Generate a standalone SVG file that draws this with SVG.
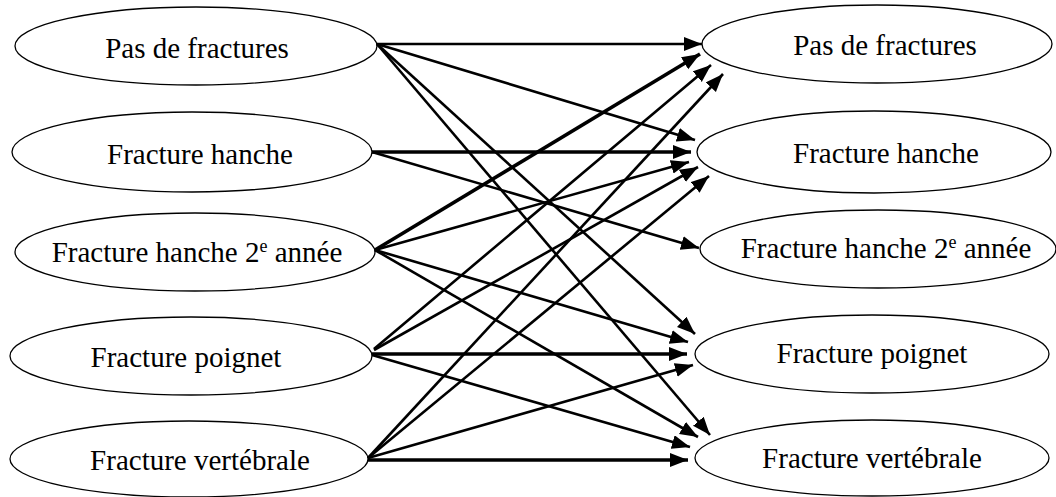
<svg xmlns="http://www.w3.org/2000/svg" width="1056" height="497" viewBox="0 0 1056 497">
  <style>
    .node ellipse { fill: #fff; stroke: #000; stroke-width: 1.3; }
    .node text { font-size: 29px; fill: #000; text-anchor: middle; }
    .sup { font-size: 18px; }
    #edges line { stroke: #000; stroke-width: 2.6; marker-end: url(#arrow); }
    #edges line.thick { stroke-width: 3.6; }
  </style>
  <defs>
    <marker id="arrow" markerUnits="userSpaceOnUse" markerWidth="19" markerHeight="15" refX="18" refY="7" orient="auto">
      <path d="M0,0 L18,7 L0,14 z" fill="#000"/>
    </marker>
  </defs>

  <rect width="1056" height="497" fill="#fff"/>

  <!-- left column -->
  <g id="L1" class="node"><ellipse cx="196" cy="46" rx="181" ry="39"/><text x="197" y="58" font-family="Liberation Serif, Times New Roman, serif">Pas de fractures</text></g>
  <g id="L2" class="node"><ellipse cx="192" cy="152" rx="180" ry="40"/><text x="200" y="164" font-family="Liberation Serif, Times New Roman, serif">Fracture hanche</text></g>
  <g id="L3" class="node"><ellipse cx="195" cy="252" rx="180" ry="39"/><text x="197" y="262" font-family="Liberation Serif, Times New Roman, serif">Fracture hanche 2<tspan class="sup" dy="-10">e</tspan><tspan dy="10"> année</tspan></text></g>
  <g id="L4" class="node"><ellipse cx="191" cy="356" rx="181" ry="39"/><text x="186" y="367" font-family="Liberation Serif, Times New Roman, serif">Fracture poignet</text></g>
  <g id="L5" class="node"><ellipse cx="189" cy="459" rx="179" ry="38"/><text x="200" y="470" font-family="Liberation Serif, Times New Roman, serif">Fracture vertébrale</text></g>

  <!-- right column -->
  <g id="R1" class="node"><ellipse cx="877" cy="44" rx="175" ry="39"/><text x="885" y="55" font-family="Liberation Serif, Times New Roman, serif">Pas de fractures</text></g>
  <g id="R2" class="node"><ellipse cx="874" cy="152" rx="177" ry="41"/><text x="886" y="163" font-family="Liberation Serif, Times New Roman, serif">Fracture hanche</text></g>
  <g id="R3" class="node"><ellipse cx="878" cy="249" rx="178" ry="39"/><text x="886" y="258" font-family="Liberation Serif, Times New Roman, serif">Fracture hanche 2<tspan class="sup" dy="-10">e</tspan><tspan dy="10"> année</tspan></text></g>
  <g id="R4" class="node"><ellipse cx="872" cy="354" rx="177" ry="39"/><text x="872" y="363" font-family="Liberation Serif, Times New Roman, serif">Fracture poignet</text></g>
  <g id="R5" class="node"><ellipse cx="872" cy="458" rx="177" ry="38"/><text x="872" y="468" font-family="Liberation Serif, Times New Roman, serif">Fracture vertébrale</text></g>

  <!-- connectors -->
  <g id="edges">
    <line x1="377" y1="44" x2="702" y2="44"/>
    <line x1="377" y1="44" x2="695" y2="140"/>
    <line x1="377" y1="44" x2="695" y2="334"/>
    <line x1="377" y1="44" x2="710" y2="435"/>

    <line class="thick" x1="372" y1="152" x2="691" y2="152"/>
    <line x1="372" y1="152" x2="699" y2="248"/>

    <line class="thick" x1="375" y1="250" x2="700" y2="54"/>
    <line x1="375" y1="250" x2="689" y2="162"/>
    <line x1="375" y1="250" x2="688" y2="342"/>
    <line x1="375" y1="250" x2="698" y2="437"/>

    <line x1="374" y1="349" x2="711" y2="65"/>
    <line x1="374" y1="350" x2="698" y2="167"/>
    <line class="thick" x1="372" y1="354" x2="687" y2="354"/>
    <line x1="372" y1="355" x2="690" y2="447"/>

    <line x1="368" y1="458" x2="723" y2="74"/>
    <line x1="368" y1="458" x2="709" y2="176"/>
    <line x1="368" y1="458" x2="693" y2="365"/>
    <line class="thick" x1="368" y1="460" x2="688" y2="460"/>
  </g>
</svg>
